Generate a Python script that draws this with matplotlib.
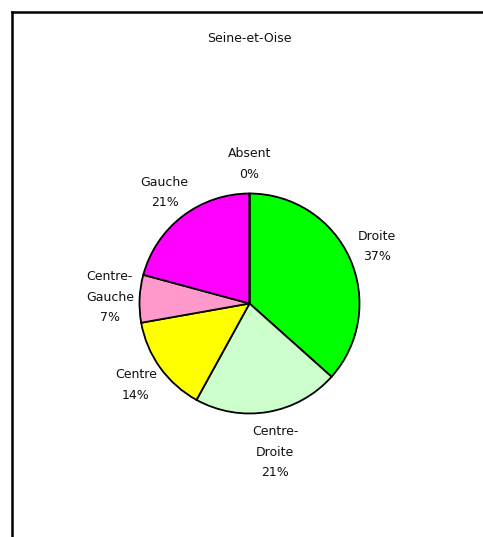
import matplotlib
matplotlib.use('Agg')
import matplotlib.pyplot as plt
from matplotlib.lines import Line2D

# data
names = ['Droite', 'Centre-\nDroite', 'Centre', 'Centre-\nGauche', 'Gauche', 'Absent']
values = [36.6, 21.4, 14.2, 7.0, 20.8, 0.0]
colors = ['#00FF00', '#CCFFCC', '#FFFF00', '#FF99CC', '#FF00FF', '#FFFFFF']
title = 'Seine-et-Oise'

W, H = 483, 537
cx, cy = 249.5, H - 303.5
fig = plt.figure(figsize=(W / 100, H / 100), dpi=100)
ax = fig.add_axes([0, 0, 1, 1])

total = sum(values)
labels = [f'{n}\n{round(v / total * 100):.0f}%' for n, v in zip(names, values)]

wedges, texts = ax.pie(values, labels=labels, colors=colors, startangle=90,
                       counterclock=False, center=(cx, cy), radius=110,
                       labeldistance=1.27, frame=True,
                       wedgeprops=dict(edgecolor='black', linewidth=1.3),
                       textprops=dict(fontsize=9, color='#111111', linespacing=1.75))
for t in texts:
    t.set_ha('center')
    t.set_va('center')
    # tall labels under the pie sit a bit further out, as in the original chart
    x, y = t.get_position()
    if t.get_text().count('\n') > 1 and y < cy - 60:
        t.set_position((cx + (x - cx) * 1.08, cy + (y - cy) * 1.08))
ax.set_xlim(0, W)
ax.set_ylim(0, H)
ax.set_aspect('equal')
ax.axis('off')

ax.text(W / 2 + 8, H - 38, title, ha='center', va='center', fontsize=9, color='#111111')

# chart frame (left and top edges visible)
fig.add_artist(Line2D([11.5 / W, 11.5 / W], [0, 1 - 11.5 / H], color='black', linewidth=1.8,
                      transform=fig.transFigure, solid_capstyle='projecting'))
fig.add_artist(Line2D([11.5 / W, 1], [1 - 11.5 / H, 1 - 11.5 / H], color='black', linewidth=1.8,
                      transform=fig.transFigure, solid_capstyle='projecting'))

fig.savefig('out.png', dpi=100, facecolor='white')
